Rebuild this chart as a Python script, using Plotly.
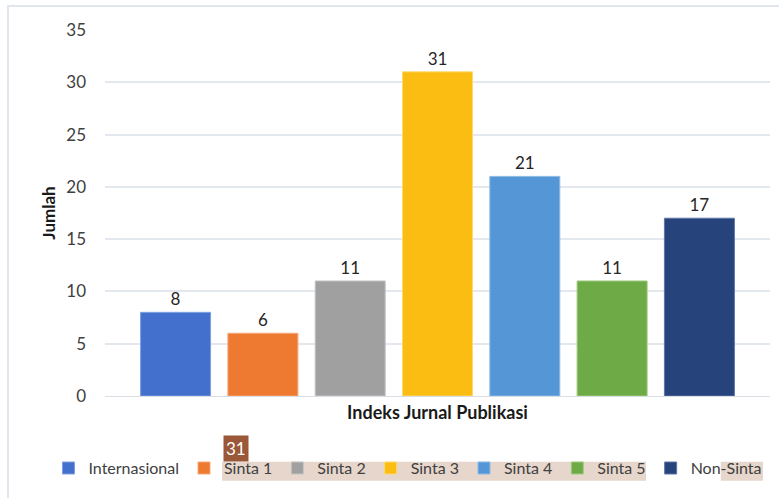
import plotly.graph_objects as go

category = "Indeks Jurnal Publikasi"
series_names = ["Internasional", "Sinta 1", "Sinta 2", "Sinta 3", "Sinta 4", "Sinta 5", "Non-Sinta"]
series_values = [8, 6, 11, 31, 21, 11, 17]
series_colors = ["#4270cc", "#ee7a31", "#a0a0a0", "#fbbd11", "#5596d6", "#6eaa45", "#27437c"]
series_lines = ["#7f9fe0", "#f5a878", "#c4c4c4", "#ffd870", "#8dbbe6", "#9fcc80", "#5f77a6"]
y_ticks = [0, 5, 10, 15, 20, 25, 30, 35]

FONT = "Lato, 'Open Sans', sans-serif"

fig = go.Figure()
for name, val, col, lc in zip(series_names, series_values, series_colors, series_lines):
    fig.add_trace(go.Bar(
        x=[category], y=[val], name=name,
        marker=dict(color=col, line=dict(color=lc, width=1)),
        text=[str(val)], textposition="outside",
        textfont=dict(size=17, color="#262626", family=FONT),
        cliponaxis=False,
    ))

fig.update_layout(
    width=779, height=498,
    margin=dict(l=105, r=9, t=30, b=102, autoexpand=False),
    paper_bgcolor="white", plot_bgcolor="white",
    barmode="group", bargap=0.081, bargroupgap=0.198,
    font=dict(family=FONT, size=17, color="#404040"),
    showlegend=True,
    legend=dict(orientation="h", x=-0.085, xanchor="left", y=-0.197, yanchor="middle",
                bgcolor="rgba(0,0,0,0)",
                font=dict(size=16, color="#404040", family=FONT),
                itemwidth=30, tracegroupgap=0, traceorder="normal"),
    xaxis=dict(showgrid=False, showline=True, linecolor="#d9dde4", linewidth=1, automargin=False,
               tickfont=dict(size=18, color="#1a1a1a", family=FONT, weight="bold"),
               ticks="", fixedrange=True),
    yaxis=dict(range=[0, 35], tickvals=y_ticks, showgrid=True, gridcolor="#e3e7ee", gridwidth=1.5,
               zeroline=False, showline=False, ticks="", ticklabelstandoff=18, automargin=False,
               tickfont=dict(size=17, color="#404040", family=FONT),
               title=dict(text="Jumlah", font=dict(size=17, color="#1a1a1a", family=FONT, weight="bold"),
                          standoff=6)),
    shapes=[
        dict(type="rect", xref="paper", yref="paper", x0=-0.1459, x1=1.2, y0=-0.6, y1=1.0656,
             line=dict(color="#e1e5ec", width=2), fillcolor="rgba(0,0,0,0)", layer="below"),
        dict(type="rect", xref="paper", yref="paper", x0=0.176, x1=0.8135, y0=-0.2314, y1=-0.1795,
             line=dict(width=0), fillcolor="#e6d6cc", layer="below"),
        dict(type="rect", xref="paper", yref="paper", x0=0.926, x1=0.9895, y0=-0.2314, y1=-0.1795,
             line=dict(width=0), fillcolor="#e6d6cc", layer="below"),
    ],
    annotations=[
        dict(xref="paper", yref="paper", x=0.1973, y=-0.1444, text="31", showarrow=False,
             bgcolor="#9a5838", font=dict(color="white", size=17, family=FONT),
             borderpad=2, xanchor="center", yanchor="middle"),
    ],
)

fig.write_html("out.html", post_script="document.body.style.margin='0';",
               config={"displayModeBar": False})
